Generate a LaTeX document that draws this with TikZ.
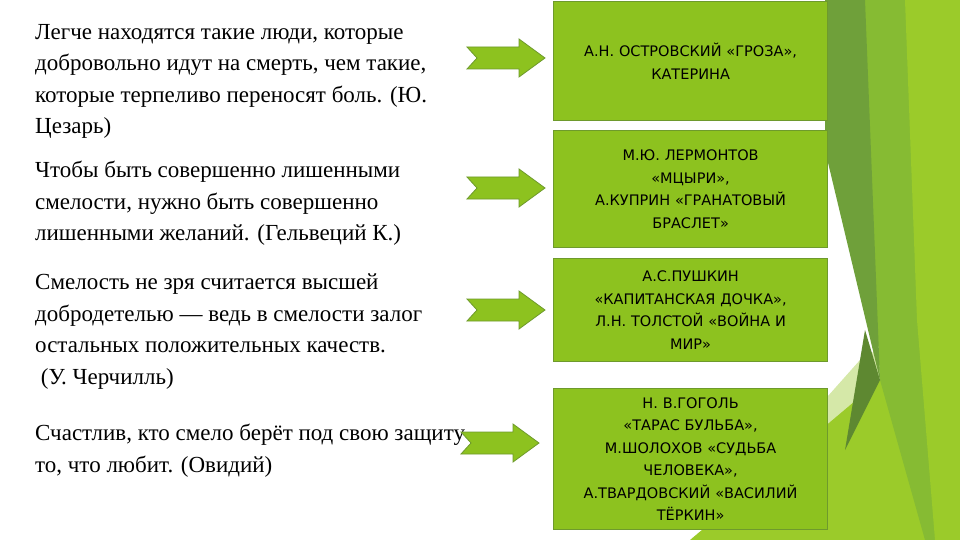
\documentclass[tikz,border=0pt]{standalone}
\usepackage{fontspec}
\setmainfont{Liberation Serif}
\newfontfamily\boxfont{DejaVu Sans}
\definecolor{boxg}{HTML}{8DC21F}
\definecolor{boxb}{HTML}{6E9A2C}
\definecolor{darkg}{HTML}{6FA03A}
\definecolor{midg}{HTML}{86BB33}
\definecolor{limeg}{HTML}{9BCB2A}
\definecolor{paleg}{HTML}{D5E8A8}
\tikzset{x=1pt,y=-1pt,
 quote/.style={anchor=north west,align=left,font=\fontsize{23}{31.5}\selectfont,inner sep=0pt},
 work/.style={draw=boxb,line width=1.2pt,fill=boxg,minimum width=274pt,align=center,
   font=\boxfont\fontsize{14.5}{22.5}\selectfont,text width=270pt,inner xsep=2pt},
 arrsty/.style={fill=boxg,draw=boxb,line width=0.8pt,line join=miter}}
\newcommand\notcharrow[2]{\draw[arrsty,shift={(#1,#2)}] (-39,-11) -- (13,-11) -- (13,-19) -- (39,0) -- (13,19) -- (13,11) -- (-39,11) -- (-29,0) -- cycle;}
\begin{document}
\begin{tikzpicture}
\useasboundingbox (0,0) rectangle (960,540);
\fill[white] (0,0) rectangle (960,540);
% decoration
\fill[paleg] (700,540) -- (860,360) -- (960,300) -- (960,540) -- cycle;
\fill[limeg] (690,540) -- (880,380) -- (960,330) -- (960,540) -- cycle;
\fill[midg] (860,0) -- (960,0) -- (960,540) -- (925,540) -- (880,380) -- cycle;
\fill[limeg] (905,0) -- (960,0) -- (960,540) -- (935,540) -- (917,320) -- cycle;
\fill[darkg] (825,0) -- (865,0) -- (880,380) -- (825,150) -- cycle;
\fill[darkg!85!black] (865,330) -- (880,380) -- (845,450) -- cycle;
% quotes
\node[quote] (q1) at (35,24) {Легче находятся такие люди, которые\\добровольно идут на смерть, чем такие,\\которые терпеливо переносят боль. (Ю.\\Цезарь)};
\node[quote] (q2) at (35,161) {Чтобы быть совершенно лишенными\\смелости, нужно быть совершенно\\лишенными желаний. (Гельвеций К.)};
\node[quote] (q3) at (35,274) {Смелость не зря считается высшей\\добродетелью — ведь в смелости залог\\остальных положительных качеств.\\\ (У. Черчилль)};
\node[quote] (q4) at (35,424) {Счастлив, кто смело берёт под свою защиту\\то, что любит. (Овидий)};
% boxes
\node[work,minimum height=119pt,anchor=north west] (b1) at (553,1) {А.Н. ОСТРОВСКИЙ «ГРОЗА»,\\КАТЕРИНА\\[28pt]};
\node[work,minimum height=117pt,anchor=north west] (b2) at (553,130) {М.Ю. ЛЕРМОНТОВ\\«МЦЫРИ»,\\А.КУПРИН «ГРАНАТОВЫЙ\\БРАСЛЕТ»};
\node[work,minimum height=103pt,anchor=north west] (b3) at (553,258) {А.С.ПУШКИН\\«КАПИТАНСКАЯ ДОЧКА»,\\Л.Н. ТОЛСТОЙ «ВОЙНА И\\МИР»};
\node[work,minimum height=141pt,anchor=north west] (b4) at (553,388) {Н. В.ГОГОЛЬ\\«ТАРАС БУЛЬБА»,\\М.ШОЛОХОВ «СУДЬБА\\ЧЕЛОВЕКА»,\\А.ТВАРДОВСКИЙ «ВАСИЛИЙ\\ТЁРКИН»};
% arrows
\notcharrow{506}{58}
\notcharrow{506}{188}
\notcharrow{506}{310}
\notcharrow{500}{443}
\end{tikzpicture}
\end{document}
